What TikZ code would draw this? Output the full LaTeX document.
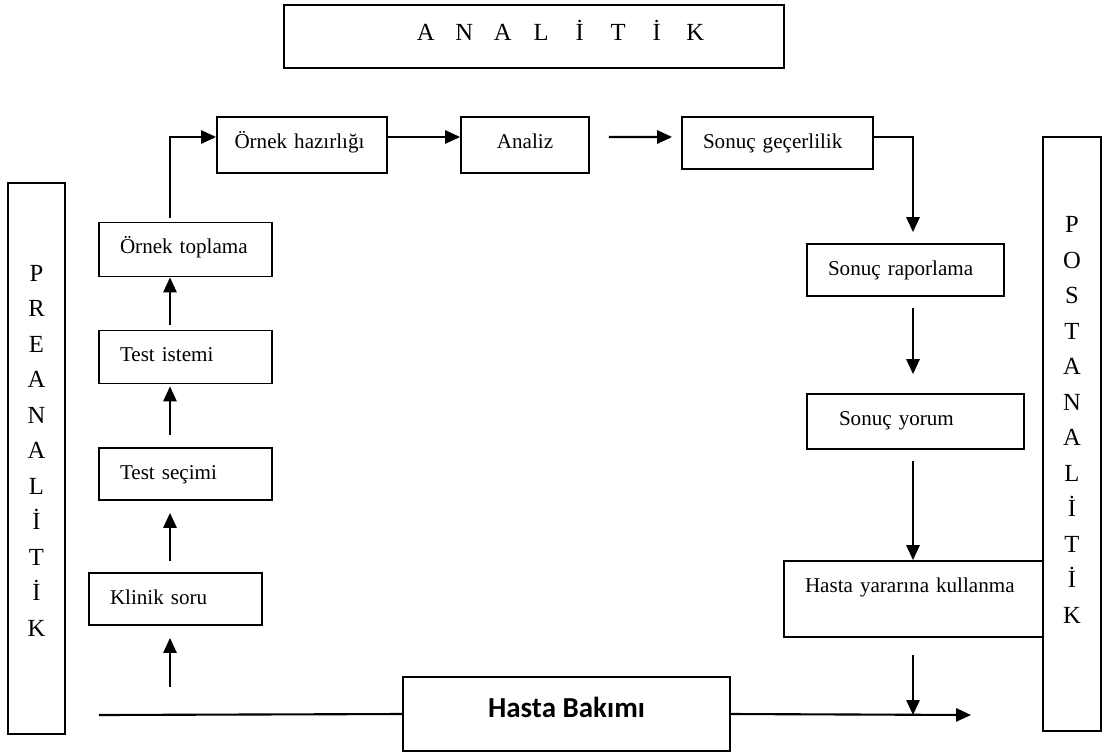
\documentclass[tikz,border=0pt]{standalone}
\usepackage{fontspec}
\setmainfont{Liberation Serif}
\newfontfamily\bakimfont{Carlito}
\usetikzlibrary{arrows.meta, positioning}

\newcommand{\harf}[1]{\makebox[0.77cm]{#1}}

\begin{document}
\begin{tikzpicture}[
  box/.style={draw, line width=1pt, align=left, inner xsep=0.42cm, inner ysep=0pt,
              text height=0.62cm, font=\fontsize{12}{14}\selectfont},
  side/.style={draw, line width=1pt, align=center, inner sep=0pt, minimum width=1.15cm,
               font=\fontsize{14}{20.2}\selectfont},
  arr/.style={-{Triangle[length=8.5pt, width=7.5pt]}, line width=1.2pt}
]
  \useasboundingbox (0,0) rectangle (22.08,-15.06);

  % phases
  \node[draw, line width=1pt, minimum width=10cm, inner ysep=0pt, text height=0.7cm,
        text depth=0.56cm, font=\fontsize{14}{16}\selectfont] (analitik) at (10.68,-0.73)
        {\hspace*{1.06cm}\harf{A}\harf{N}\harf{A}\harf{L}\harf{İ}\harf{T}\harf{İ}\harf{K}};
  \node[side, text height=9.06cm, text depth=1.96cm] (pre) at (0.73,-9.17)
        {P\\R\\E\\A\\N\\A\\L\\İ\\T\\İ\\K};
  \node[side, text height=9.72cm, text depth=2.16cm] (post) at (21.44,-8.68)
        {P\\O\\S\\T\\A\\N\\A\\L\\İ\\T\\İ\\K};

  % steps
  \node[box, text width=2.62cm, text depth=0.42cm] (klinik) at (3.51,-11.98)  {Klinik soru};
  \node[box, text width=2.62cm, text depth=0.42cm] (tsec)   at (3.71,-9.48)   {Test seçimi};
  \node[box, text width=2.62cm, text depth=0.44cm] (tist)   at (3.71,-7.14)   {Test istemi};
  \node[box, text width=2.62cm, text depth=0.46cm] (otop)   at (3.71,-4.99)   {Örnek toplama};
  \node[box, inner xsep=0.35cm, text width=2.7cm, text depth=0.5cm] (ornhaz) at (6.04,-2.9) {Örnek hazırlığı};
  \node[box, align=center, text width=1.72cm, text depth=0.5cm] (analiz) at (10.5,-2.9) {Analiz};
  \node[box, text width=2.98cm, text depth=0.42cm] (sgec)   at (15.55,-2.86)  {Sonuç geçerlilik};
  \node[box, text width=3.1cm, text depth=0.42cm]  (srap)   at (18.11,-5.4)   {Sonuç raporlama};
  \node[box, inner xsep=0.64cm, text width=3.06cm, text depth=0.48cm] (syor) at (18.31,-8.43) {Sonuç yorum};
  \node[box, text width=4.34cm, text depth=0.9cm]  (hyk)    at (18.27,-11.98) {Hasta yararına kullanma};
  \node[draw, line width=1pt, minimum width=6.54cm, inner ysep=0pt, text height=0.8cm,
        text depth=0.68cm, font=\bakimfont\bfseries\fontsize{16.5}{18}\selectfont]
        (hbak) at (11.33,-14.28) {Hasta Bakımı};

  \coordinate (lcol)   at (3.4,0);
  \coordinate (rcol)   at (18.26,0);
  \coordinate (kin)    at (3.4,-13.74);
  \coordinate (bstart) at (1.98,-14.3);
  \coordinate (bend)   at (19.42,-14.3);

  % preanalitik
  \draw[arr, shorten >=0.24cm] (kin) -- (klinik.south -| lcol);
  \draw[arr, shorten <=0.22cm, shorten >=0.24cm] (klinik.north -| lcol) -- (tsec.south -| lcol);
  \draw[arr, shorten <=0.24cm, shorten >=0.04cm] (tsec.north -| lcol) -- (tist.south -| lcol);
  \draw[arr, shorten <=0.1cm] (tist.north -| lcol) -- (otop.south -| lcol);
  \draw[arr, shorten <=0.08cm] (otop.north -| lcol) |- ([yshift=0.16cm]ornhaz.west);

  % analitik
  \draw[arr] ([yshift=0.16cm]ornhaz.east) -- ([yshift=0.16cm]analiz.west);
  \draw[arr, shorten <=0.38cm, shorten >=0.18cm] ([yshift=0.16cm]analiz.east) -- ([yshift=0.12cm]sgec.west);

  % postanalitik
  \draw[arr, shorten >=0.22cm] ([yshift=0.12cm]sgec.east) -| (srap.north -| rcol);
  \draw[arr, shorten <=0.22cm, shorten >=0.38cm] (srap.south -| rcol) -- (syor.north -| rcol);
  \draw[arr, shorten <=0.22cm] (syor.south -| rcol) -- (hyk.north -| rcol);
  \draw[arr, shorten <=0.34cm] (hyk.south -| rcol) -- (bend -| rcol);

  \draw[line width=1.2pt] (bstart) -- (hbak.west);
  \draw[arr] (hbak.east) -- (bend);
\end{tikzpicture}
\end{document}
